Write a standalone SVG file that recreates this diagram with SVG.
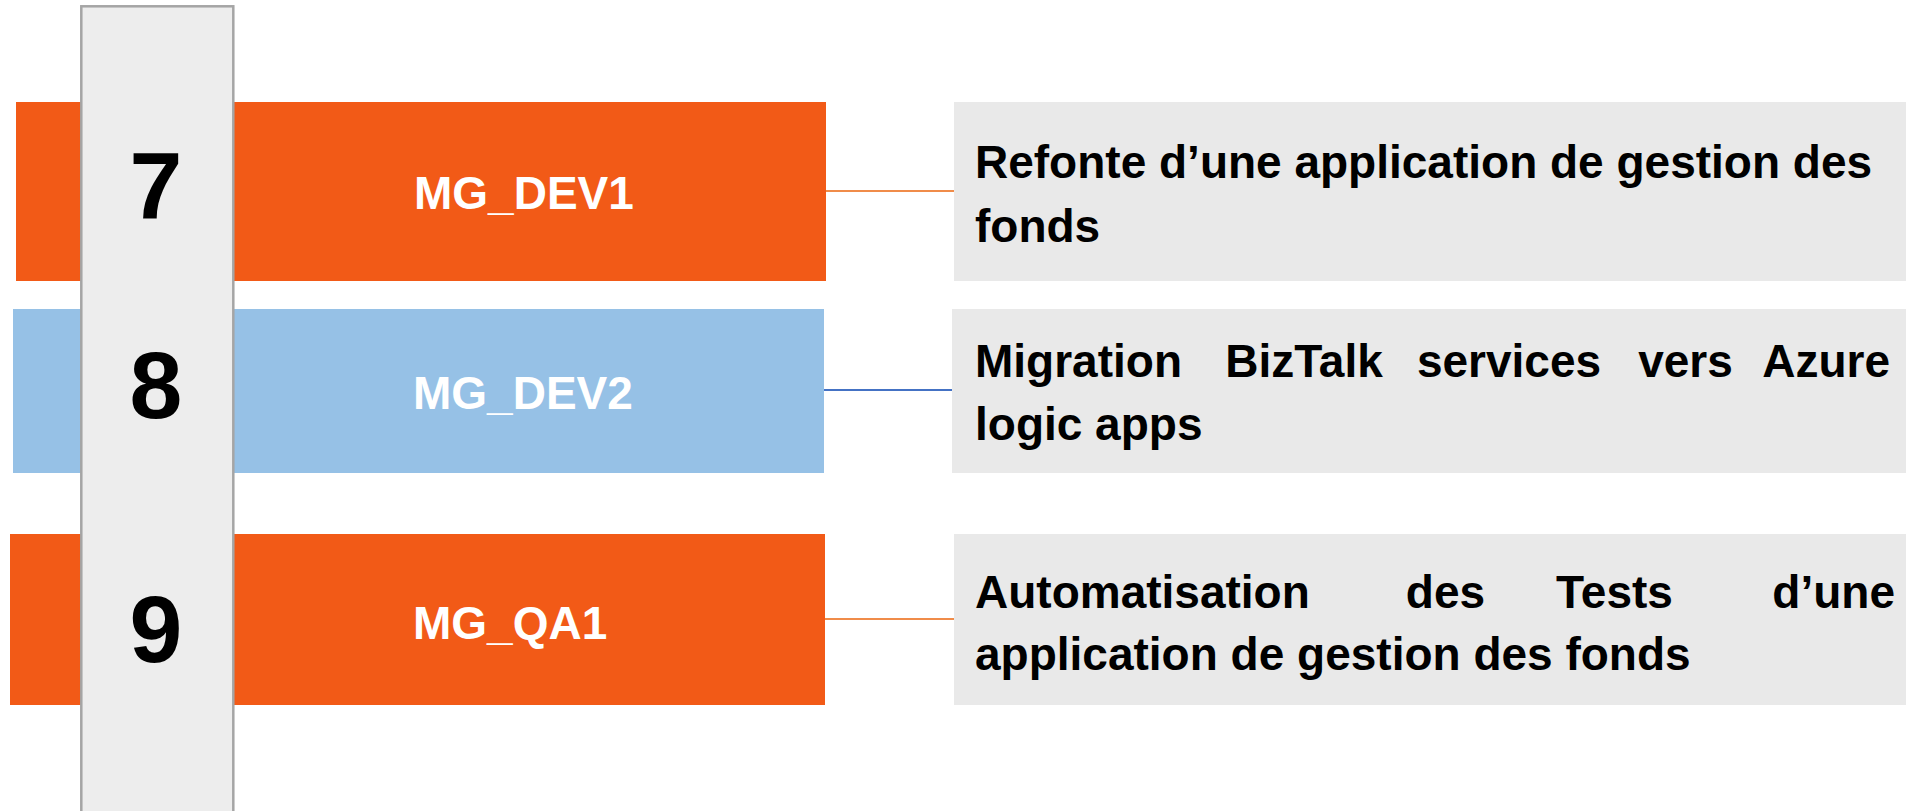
<svg xmlns="http://www.w3.org/2000/svg" width="1906" height="811" viewBox="0 0 1906 811">
<style>
.orange{fill:#F25A17}
.blue{fill:#96C1E6}
.box{fill:#E9E9E9}
.col{fill:#EDEDED;stroke:#A5A5A5;stroke-width:2.5}
.num{font-family:"Liberation Sans",Arial,sans-serif;font-weight:bold;font-size:95px;fill:#000;text-anchor:middle}
.lbl{font-family:"Liberation Sans",Arial,sans-serif;font-weight:bold;font-size:46px;fill:#fff}
.txt{font-family:"Liberation Sans",Arial,sans-serif;font-weight:bold;font-size:46px;fill:#000}
.c-o{stroke:#F08C4A;stroke-width:2;fill:none}
.c-b{stroke:#4472C4;stroke-width:2;fill:none}
</style>
<rect width="1906" height="811" fill="#fff"/>
<g id="bar-dev1"><rect class="orange" x="16" y="102" width="810" height="179"/><text class="lbl" x="414" y="209">MG_DEV1</text></g>
<g id="bar-dev2"><rect class="blue" x="13" y="309" width="811" height="164"/><text class="lbl" x="413" y="409">MG_DEV2</text></g>
<g id="bar-qa1"><rect class="orange" x="10" y="534" width="815" height="171"/><text class="lbl" x="413" y="639">MG_QA1</text></g>
<g id="column"><rect class="col" x="81.3" y="6.3" width="152" height="820"/>
<text class="num" x="156" y="219">7</text>
<text class="num" x="156" y="418">8</text>
<text class="num" x="156" y="662">9</text>
</g>
<g id="connectors">
<line class="c-o" x1="826" y1="191" x2="954" y2="191"/>
<line class="c-b" x1="824" y1="390" x2="952" y2="390"/>
<line class="c-o" x1="825" y1="619" x2="954" y2="619"/>
</g>
<g id="desc-dev1"><rect class="box" x="954" y="102" width="952" height="179"/>
<text class="txt" x="975" y="178">Refonte d’une application de gestion des</text>
<text class="txt" x="975" y="242">fonds</text>
</g>
<g id="desc-dev2"><rect class="box" x="952" y="309" width="954" height="164"/>
<text class="txt" x="975" y="377">Migration</text>
<text class="txt" x="1304" y="377" text-anchor="middle">BizTalk</text>
<text class="txt" x="1509" y="377" text-anchor="middle">services</text>
<text class="txt" x="1685.5" y="377" text-anchor="middle">vers</text>
<text class="txt" x="1890" y="377" text-anchor="end">Azure</text>
<text class="txt" x="975" y="440">logic apps</text>
</g>
<g id="desc-qa1"><rect class="box" x="954" y="534" width="952" height="171"/>
<text class="txt" x="975" y="608">Automatisation</text>
<text class="txt" x="1445.5" y="608" text-anchor="middle">des</text>
<text class="txt" x="1614.5" y="608" text-anchor="middle">Tests</text>
<text class="txt" x="1895" y="608" text-anchor="end">d’une</text>
<text class="txt" x="975" y="670">application de gestion des fonds</text>
</g>
</svg>
